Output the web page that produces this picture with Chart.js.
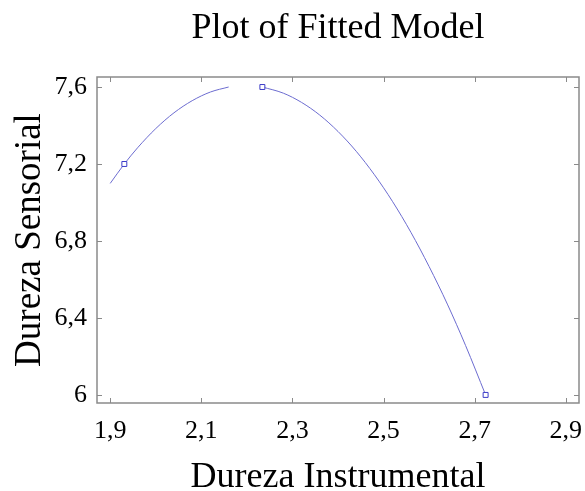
<!DOCTYPE html>
<html>
<head>
<meta charset="utf-8">
<script src="https://cdn.jsdelivr.net/npm/chart.js@4/dist/chart.umd.min.js"></script>
<style>
  html, body { margin: 0; padding: 0; background: #fff; }
  #wrap { width: 585px; height: 491px; }
</style>
</head>
<body>
<div id="wrap"><canvas id="c" width="585" height="491"></canvas></div>
<script>
// Observed samples
const obsX = [1.931, 2.234, 2.724];
const obsY = [7.2, 7.6, 6.0];

// Fitted curve (null marks the part above the top of the plotted range)
const fitX = [1.90, 1.93, 1.96, 2.00, 2.04, 2.08, 2.12, 2.16, 2.20, 2.234, 2.28, 2.32, 2.36, 2.40, 2.44, 2.48, 2.52, 2.56, 2.60, 2.64, 2.68, 2.724];
const fitY = [7.099, 7.197, 7.284, 7.384, 7.466, 7.529, 7.574, 7.600, null, 7.600, 7.568, 7.520, 7.454, 7.369, 7.266, 7.144, 7.004, 6.845, 6.667, 6.472, 6.257, 6.000];

// Axis ticks
const xTickValues = [1.9, 2.1, 2.3, 2.5, 2.7, 2.9];
const xTickLabels = ['1,9', '2,1', '2,3', '2,5', '2,7', '2,9'];
const yTickValues = [6.0, 6.4, 6.8, 7.2, 7.6];
const yTickLabels = ['6', '6,4', '6,8', '7,2', '7,6'];

const SERIF = "'Liberation Serif', 'Times New Roman', serif";
const FRAME = '#8a8a8a';

// Box around the plot area with short inward ticks on all four sides
const framePlugin = {
  id: 'frame',
  afterDatasetsDraw(chart) {
    const { ctx, chartArea: a, scales } = chart;
    const len = 5;
    ctx.save();
    ctx.strokeStyle = FRAME;
    ctx.lineWidth = 1.5;
    ctx.strokeRect(a.left, a.top, a.right - a.left, a.bottom - a.top);
    ctx.lineWidth = 1;
    ctx.beginPath();
    xTickValues.forEach(v => {
      const px = Math.round(scales.x.getPixelForValue(v)) + 0.5;
      ctx.moveTo(px, a.bottom); ctx.lineTo(px, a.bottom - len);
      ctx.moveTo(px, a.top); ctx.lineTo(px, a.top + len);
    });
    yTickValues.forEach(v => {
      const py = Math.round(scales.y.getPixelForValue(v)) + 0.5;
      ctx.moveTo(a.left, py); ctx.lineTo(a.left + len, py);
      ctx.moveTo(a.right, py); ctx.lineTo(a.right - len, py);
    });
    ctx.stroke();
    ctx.restore();
  }
};

new Chart(document.getElementById('c'), {
  type: 'scatter',
  data: {
    datasets: [
      {
        type: 'line',
        label: 'fit',
        data: fitX.map((x, i) => ({ x, y: fitY[i] })),
        borderColor: '#6c6cd0',
        borderWidth: 1,
        pointRadius: 0,
        fill: false,
        spanGaps: false,
        cubicInterpolationMode: 'monotone',
        order: 2
      },
      {
        label: 'obs',
        data: obsX.map((x, i) => ({ x, y: obsY[i] })),
        pointStyle: 'rect',
        pointRadius: 3.5,
        borderColor: '#3c3cc8',
        borderWidth: 1,
        backgroundColor: '#ffffff',
        order: 1
      }
    ]
  },
  options: {
    responsive: false,
    animation: false,
    layout: { padding: { left: 0, right: 6, top: 0, bottom: 0 } },
    plugins: {
      legend: { display: false },
      tooltip: { enabled: false },
      title: {
        display: true,
        fullSize: false,
        text: 'Plot of Fitted Model',
        color: '#000',
        font: { family: SERIF, size: 36, weight: 'normal', lineHeight: 1 },
        padding: { top: 11, bottom: 30 }
      }
    },
    scales: {
      x: {
        type: 'linear',
        min: 1.871,
        max: 2.929,
        grid: { display: false, drawTicks: false },
        border: { display: false },
        afterBuildTicks(s) { s.ticks = xTickValues.map(v => ({ value: v })); },
        afterFit(s) { s.height = 88; s.paddingLeft = 0; s.paddingRight = 0; },
        ticks: {
          color: '#000',
          padding: 13,
          maxRotation: 0,
          font: { family: SERIF, size: 26 },
          callback: (v, i) => xTickLabels[i]
        },
        title: {
          display: true,
          text: 'Dureza Instrumental',
          color: '#000',
          font: { family: SERIF, size: 36, lineHeight: 1 },
          padding: { top: 0, bottom: -5 }
        }
      },
      y: {
        type: 'linear',
        min: 5.958,
        max: 7.652,
        grid: { display: false, drawTicks: false },
        border: { display: false },
        afterBuildTicks(s) { s.ticks = yTickValues.map(v => ({ value: v })); },
        afterFit(s) { s.width = 97; s.paddingTop = 0; s.paddingBottom = 0; },
        ticks: {
          color: '#000',
          padding: 10,
          font: { family: SERIF, size: 26 },
          callback: (v, i) => yTickLabels[i]
        },
        title: {
          display: true,
          text: 'Dureza Sensorial',
          color: '#000',
          font: { family: SERIF, size: 37, lineHeight: 1 },
          padding: { top: 12, bottom: 0 }
        }
      }
    }
  },
  plugins: [framePlugin]
});
</script>
</body>
</html>
